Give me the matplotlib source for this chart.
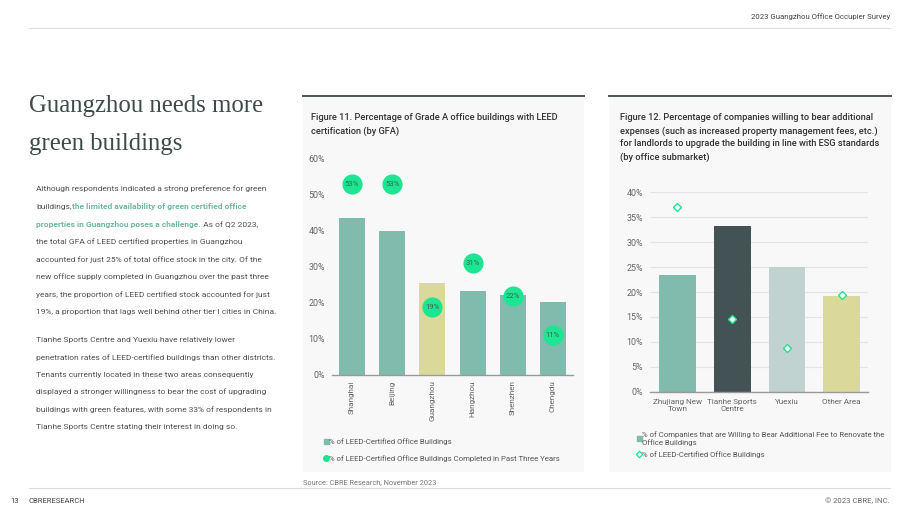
import matplotlib
matplotlib.use("Agg")
import matplotlib.pyplot as plt
from matplotlib.patches import Rectangle
from matplotlib.lines import Line2D
from matplotlib.text import Annotation

W, H = 920, 518

# Figure 11 data
cities = ['Shanghai', 'Beijing', 'Guangzhou', 'Hangzhou', 'Shenzhen', 'Chengdu']
leed_share = [43.7, 40.0, 25.5, 23.3, 22.2, 20.2]
leed_recent = [53, 53, 19, 31, 22, 11]

# Figure 12 data
submarkets = ['Zhujiang New\nTown', 'Tianhe Sports\nCentre', 'Yuexiu', 'Other Area']
willing_fee = [23.4, 33.3, 25.0, 19.1]
leed_submarket = [37.1, 14.6, 8.8, 19.4]

TEAL = '#80BBAD'
SAND = '#DBD99A'
DARK = '#435254'
PALE = '#C0D3D0'
GREEN = '#1DE591'
GREY = '#666666'

plt.rcParams['font.family'] = ['Roboto', 'DejaVu Sans']

fig = plt.figure(figsize=(W / 100, H / 100), dpi=100)


def fx(x):
    return x / W


def fy(y):
    return 1 - y / H


def box(x0, y0, x1, y1):
    return [fx(x0), fy(y1), (x1 - x0) / W, (y1 - y0) / H]


# page header / footer
fig.text(fx(890), fy(17), '2023 Guangzhou Office Occupier Survey', ha='right', va='center',
         fontsize=5.6, color='#444444')
fig.add_artist(Line2D([fx(29), fx(890)], [fy(28), fy(28)], color='#dddddd', lw=0.8))
fig.add_artist(Line2D([fx(29), fx(890)], [fy(488), fy(488)], color='#dddddd', lw=0.8))
fig.text(fx(10), fy(501), '13', ha='left', va='center', fontsize=5.5, color='#444444')
fig.text(fx(29), fy(501), 'CBRERESEARCH', ha='left', va='center', fontsize=5.5, color='#444444')
fig.text(fx(890), fy(501), '\u00a9 2023 CBRE, INC.', ha='right', va='center', fontsize=5.6,
         color='#666666')
fig.text(fx(303), fy(483), 'Source: CBRE Research, November 2023', ha='left', va='center',
         fontsize=5.3, color='#777777')

# heading
fig.text(fx(29), fy(106), 'Guangzhou needs more', ha='left', va='center',
         fontsize=17.8, color='#3f4b4b', family='Liberation Serif')
fig.text(fx(29), fy(144), 'green buildings', ha='left', va='center',
         fontsize=17.8, color='#3f4b4b', family='Liberation Serif')

# body text
body_kw = dict(fontsize=6.05, color='#505050')
hl_kw = dict(fontsize=6.05, color='#6DB89C', fontweight='bold')
lines = [
    'Although respondents indicated a strong preference for green',
    None,
    None,
    'the total GFA of LEED certified properties in Guangzhou',
    'accounted for just 25% of total office stock in the city. Of the',
    'new office supply completed in Guangzhou over the past three',
    'years, the proportion of LEED certified stock accounted for just',
    '19%, a proportion that lags well behind other tier I cities in China.',
]
y0 = 189
for i, s in enumerate(lines):
    if s is not None:
        fig.text(fx(36), fy(y0 + i * 17.6), s, ha='left', va='center', **body_kw)
t1 = fig.text(fx(36), fy(y0 + 17.6), 'buildings,', ha='left', va='center', **body_kw)
fig.add_artist(Annotation('the limited availability of green certified office', xy=(1, 0),
                          xycoords=t1, ha='left', va='bottom', annotation_clip=False, **hl_kw))
t2 = fig.text(fx(36), fy(y0 + 2 * 17.6), 'properties in Guangzhou poses a challenge.', ha='left',
              va='center', **hl_kw)
fig.add_artist(Annotation(' As of Q2 2023,', xy=(1, 0), xycoords=t2, ha='left', va='bottom',
                          annotation_clip=False, **body_kw))

para2 = [
    'Tianhe Sports Centre and Yuexiu have relatively lower',
    'penetration rates of LEED-certified buildings than other districts.',
    'Tenants currently located in these two areas consequently',
    'displayed a stronger willingness to bear the cost of upgrading',
    'buildings with green features, with some 33% of respondents in',
    'Tianhe Sports Centre stating their interest in doing so.',
]
for i, s in enumerate(para2):
    fig.text(fx(36), fy(340 + i * 17.3), s, ha='left', va='center', **body_kw)

# panels
for x0, x1 in [(303, 584), (609, 891)]:
    fig.patches.append(Rectangle((fx(x0), fy(472)), (x1 - x0) / W, (472 - 96) / H,
                                 transform=fig.transFigure, facecolor='#F8F8F8', edgecolor='none',
                                 zorder=-5))
    fig.add_artist(Line2D([fx(x0), fx(x1)], [fy(96), fy(96)], color='#4a5556', lw=1.4))

title_kw = dict(fontsize=6.65, color='#333333', ha='left', va='center', fontweight='medium')
fig.text(fx(311), fy(118), 'Figure 11. Percentage of Grade A office buildings with LEED', **title_kw)
fig.text(fx(311), fy(131), 'certification (by GFA)', **title_kw)
t12 = ['Figure 12. Percentage of companies willing to bear additional',
       'expenses (such as increased property management fees, etc.)',
       'for landlords to upgrade the building in line with ESG standards',
       '(by office submarket)']
for i, s in enumerate(t12):
    fig.text(fx(620), fy(118 + i * 13), s, **title_kw)

# ---- Figure 11 chart
ax1 = fig.add_axes(box(332, 159, 573, 375))
ax1.set_facecolor('none')
xs = range(len(cities))
ax1.bar(xs, leed_share, width=0.65, color=[SAND if c == 'Guangzhou' else TEAL for c in cities],
        zorder=2)
ax1.plot(xs, leed_recent, 'o', ms=14.5, color=GREEN, mec='none', zorder=3)
for x, v in zip(xs, leed_recent):
    ax1.text(x, v, f'{v}%', ha='center', va='center', fontsize=5.6, color='#2f6b55', zorder=4)
ax1.set_xlim(-0.5, 5.5)
ax1.set_ylim(0, 60)
ax1.set_yticks(range(0, 61, 10))
ax1.set_yticklabels([f'{v}%' for v in range(0, 61, 10)])
ax1.set_xticks(list(xs))
ax1.set_xticklabels(cities, rotation=90, va='top')
for s in ['top', 'right', 'left']:
    ax1.spines[s].set_visible(False)
ax1.spines['bottom'].set_color('#999999')
ax1.spines['bottom'].set_linewidth(1.0)
ax1.tick_params(length=0, labelsize=6.4, labelcolor=GREY)
ax1.tick_params(axis='y', pad=5)
ax1.tick_params(axis='x', pad=4, labelsize=5.9)

h1 = [Line2D([], [], marker='s', ls='none', ms=3.6, color=TEAL),
      Line2D([], [], marker='o', ls='none', ms=4.0, color=GREEN)]
fig.legend(h1, ['% of LEED-Certified Office Buildings',
                '% of LEED-Certified Office Buildings Completed in Past Three Years'],
           loc='upper left', bbox_to_anchor=(fx(324), fy(438)), frameon=False, fontsize=5.6,
           labelcolor='#555555', handlelength=0.4, handletextpad=0.25, borderpad=0,
           borderaxespad=0, labelspacing=1.3)

# ---- Figure 12 chart
ax2 = fig.add_axes(box(650, 192.3, 868, 391.7))
ax2.set_facecolor('none')
xs2 = range(len(submarkets))
ax2.bar(xs2, willing_fee, width=0.67, color=[TEAL, DARK, PALE, SAND], zorder=2)
ax2.plot(xs2, leed_submarket, 'D', ms=4.3, mfc='white', mec=GREEN, mew=1.0, zorder=3)
ax2.set_xlim(-0.5, 3.48)
ax2.set_ylim(0, 40)
ax2.set_yticks(range(0, 41, 5))
ax2.set_yticklabels([f'{v}%' for v in range(0, 41, 5)])
ax2.set_xticks(list(xs2))
ax2.set_xticklabels(submarkets, linespacing=1.2)
ax2.grid(axis='y', color='#e4e4e4', lw=0.8, zorder=0)
ax2.set_axisbelow(True)
for s in ['top', 'right', 'left']:
    ax2.spines[s].set_visible(False)
ax2.spines['bottom'].set_color('#999999')
ax2.spines['bottom'].set_linewidth(1.0)
ax2.tick_params(length=0, labelsize=6.4, labelcolor=GREY)
ax2.tick_params(axis='y', pad=5)
ax2.tick_params(axis='x', pad=5.5, labelsize=5.9)

h2 = [Line2D([], [], marker='s', ls='none', ms=3.6, color=TEAL),
      Line2D([], [], marker='D', ls='none', ms=3.2, mfc='white', mec=GREEN, mew=0.9)]
fig.legend(h2, ['% of Companies that are Willing to Bear Additional Fee to Renovate the\nOffice Buildings',
                '% of LEED-Certified Office Buildings'],
           loc='upper left', bbox_to_anchor=(fx(637), fy(431)), frameon=False, fontsize=5.6,
           labelcolor='#555555', handlelength=0.4, handletextpad=0.25, borderpad=0,
           borderaxespad=0, labelspacing=0.7)

fig.savefig('out.png', dpi=100)
